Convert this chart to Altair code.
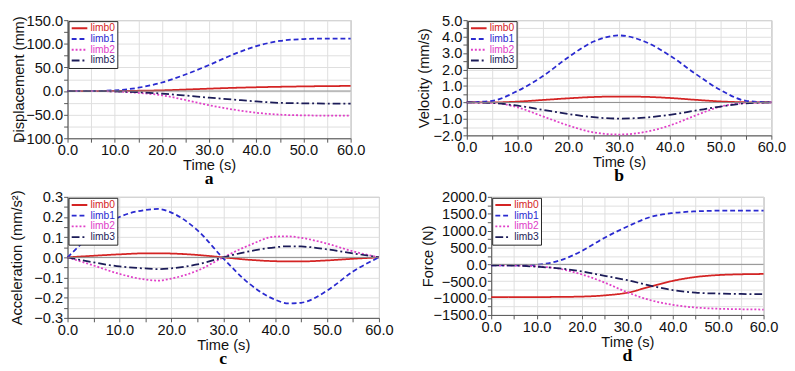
import altair as alt
import pandas as pd

limbs = ["limb0", "limb1", "limb2", "limb3"]
colors = ["#d42424", "#2a2ad0", "#e040c8", "#1c1c58"]
dashes = [[1, 0], [5, 3], [2, 2], [8, 3, 2, 3]]

t5 = [0, 5, 10, 15, 20, 25, 30, 35, 40, 45, 50, 55, 60]
tc = [0, 5, 10, 15, 17.5, 20, 25, 30, 35, 40, 42.5, 45, 50, 55, 60]

# (a) Displacement (mm)
disp_limb0 = [0, 0, 0.2, 0.6, 1.5, 3.2, 5.0, 6.7, 8.0, 9.0, 9.8, 10.4, 10.8]
disp_limb1 = [0, 0, 1.5, 7, 18, 35, 55, 77, 95, 106, 110, 111, 111]
disp_limb2 = [0, 0, -1, -4, -9, -19, -30, -39, -46, -50, -51.5, -52, -52]
disp_limb3 = [0, 0, -0.8, -2.5, -5.5, -9.5, -14, -18, -22, -25, -26, -26.5, -26.5]

# (b) Velocity (mm/s)
vel_limb0 = [0, 0, 0.05, 0.15, 0.25, 0.33, 0.36, 0.34, 0.27, 0.16, 0.06, 0.01, 0]
vel_limb1 = [0, 0.1, 0.7, 1.6, 2.75, 3.7, 4.07, 3.7, 2.85, 1.75, 0.75, 0.1, 0]
vel_limb2 = [0, -0.02, -0.3, -0.85, -1.4, -1.82, -1.95, -1.8, -1.4, -0.8, -0.25, -0.03, 0]
vel_limb3 = [0, -0.03, -0.2, -0.45, -0.7, -0.9, -0.98, -0.92, -0.75, -0.5, -0.25, -0.05, 0]

# (c) Acceleration (mm/s^2)
acc_limb0 = [0, 0.008, 0.015, 0.02, 0.02, 0.019, 0.012, 0.0, -0.012, -0.019, -0.02, -0.02, -0.015, -0.007, 0]
acc_limb1 = [0, 0.118, 0.2, 0.235, 0.24, 0.222, 0.135, -0.005, -0.13, -0.21, -0.228, -0.225, -0.165, -0.07, 0]
acc_limb2 = [0, -0.04, -0.082, -0.11, -0.115, -0.105, -0.066, 0.0, 0.06, 0.103, 0.104, 0.097, 0.068, 0.03, 0]
acc_limb3 = [0, -0.025, -0.045, -0.055, -0.058, -0.054, -0.035, 0.0, 0.03, 0.05, 0.055, 0.054, 0.04, 0.02, 0]

# (d) Force (N)
force_limb0 = [-970, -970, -970, -965, -955, -920, -840, -660, -490, -375, -318, -295, -285]
force_limb1 = [-30, -30, -10, 110, 400, 790, 1120, 1400, 1520, 1570, 1590, 1595, 1595]
force_limb2 = [-30, -35, -60, -130, -300, -540, -830, -1060, -1200, -1280, -1315, -1330, -1340]
force_limb3 = [-30, -35, -70, -120, -210, -340, -470, -630, -765, -840, -865, -878, -882]

FONT = "Liberation Sans"
color_expr = " : ".join(
    [f"datum.value === '{l}' ? '{c}'" for l, c in zip(limbs[:-1], colors[:-1])]
) + f" : '{colors[-1]}'"


def panel(t, series, ytitle, ymin, ymax, ystep, w, h, letter, tpad):
    rows = []
    for name, vals in zip(limbs, series):
        for ti, v in zip(t, vals):
            rows.append({"t": ti, "v": v, "limb": name})
    df = pd.DataFrame(rows)

    half = ystep / 2.0
    n = int(round((ymax - ymin) / half))
    yvals = [round(ymin + i * half, 6) for i in range(n + 1)]
    xvals = list(range(0, 61, 5))

    xaxis = alt.Axis(
        values=xvals,
        labelExpr="datum.value % 10 == 0 ? format(datum.value, '.1f') : ''",
        title="Time (s)", labelFlush=False, labelOverlap=False,
        titlePadding=0, labelPadding=1, grid=True,
    )
    yaxis = alt.Axis(
        values=yvals,
        labelExpr=f"round(datum.value / {half}) % 2 == 0 ? format(datum.value, '.1f') : ''",
        title=ytitle, labelOverlap=False, titlePadding=tpad, labelPadding=1, grid=True,
    )
    xs = alt.Scale(domain=[0, 60], nice=False)
    ys = alt.Scale(domain=[ymin, ymax], nice=False, zero=False)

    lines = alt.Chart(df).mark_line(strokeWidth=1.8, interpolate="monotone").encode(
        x=alt.X("t:Q", scale=xs, axis=xaxis),
        y=alt.Y("v:Q", scale=ys, axis=yaxis),
        color=alt.Color(
            "limb:N",
            scale=alt.Scale(domain=limbs, range=colors),
            legend=alt.Legend(
                title=None, orient="top-left", offset=1, padding=2,
                strokeColor="#222", fillColor="white", symbolType="M-2,0H2",
                symbolStrokeWidth=2, symbolSize=64, labelFontSize=10.5,
                labelFont=FONT, rowPadding=0, symbolOffset=4, labelOffset=6,
                labelColor={"expr": color_expr},
            ),
        ),
        strokeDash=alt.StrokeDash(
            "limb:N", scale=alt.Scale(domain=limbs, range=dashes), legend=None
        ),
    )
    zero = alt.Chart(pd.DataFrame({"t": [0], "v": [0]})).mark_rule(
        color="#8a8a8a", strokeWidth=1
    ).encode(y=alt.Y("v:Q", scale=ys, axis=yaxis))
    return alt.layer(lines, zero).properties(
        width=w, height=h,
        title=alt.TitleParams(
            text=letter, orient="bottom", font="Liberation Serif", fontSize=18,
            fontWeight="bold", offset=-2, anchor="middle", color="black",
        ),
    )


pa = panel(t5, [disp_limb0, disp_limb1, disp_limb2, disp_limb3], "Displacement (mm)",
           -100, 150, 50, 290, 121, "a", -9)
pb = panel(t5, [vel_limb0, vel_limb1, vel_limb2, vel_limb3], "Velocity (mm/s)",
           -2, 5, 1, 312, 118, "b", 2)
pc = panel(tc, [acc_limb0, acc_limb1, acc_limb2, acc_limb3], "Acceleration (mm/s²)",
           -0.3, 0.3, 0.1, 319, 124, "c", 10)
pd_ = panel(t5, [force_limb0, force_limb1, force_limb2, force_limb3], "Force (N)",
            -1500, 2000, 500, 279, 121, "d", -2)

row1 = alt.hconcat(pa, pb, spacing=50).resolve_legend(color="independent", strokeDash="independent")
row2 = alt.hconcat(pc, pd_, spacing=25).resolve_legend(color="independent", strokeDash="independent")
chart = alt.vconcat(row1, row2, spacing=0).resolve_legend(
    color="independent", strokeDash="independent"
).properties(padding=0).configure_view(
    stroke="#9a9a9a"
).configure_axis(
    labelFont=FONT, titleFont=FONT, labelFontSize=15, titleFontSize=15,
    titleFontWeight="normal", labelColor="#111", titleColor="#111",
    gridColor="#dedede", gridWidth=1, domainColor="#555", tickColor="#555",
    tickSize=4,
)

chart.save("out.html", embed_options={"renderer": "svg", "actions": False})
